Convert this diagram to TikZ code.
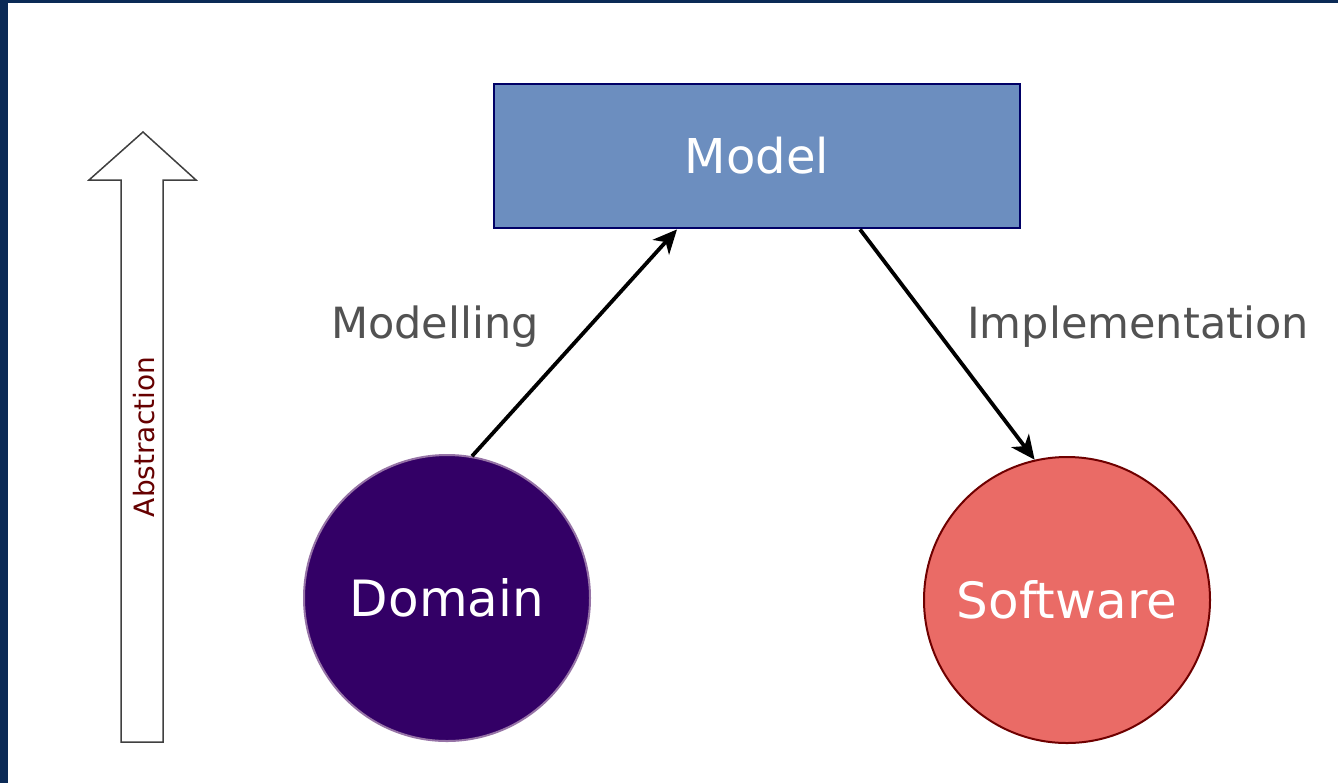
\documentclass[tikz,border=0pt]{standalone}
\usepackage{fontspec}
\setmainfont{DejaVu Sans}
\usetikzlibrary{arrows.meta}

\definecolor{framenavy}{HTML}{0B2A56}
\definecolor{modelfill}{HTML}{6C8EBF}
\definecolor{modeldraw}{HTML}{000066}
\definecolor{domfill}{HTML}{330066}
\definecolor{domdraw}{HTML}{9673A6}
\definecolor{softfill}{HTML}{EA6B66}
\definecolor{softdraw}{HTML}{6F0000}
\definecolor{labelgray}{HTML}{525252}
\definecolor{abstrred}{HTML}{660000}

\begin{document}
\begin{tikzpicture}[x=0.5pt,y=-0.5pt,
		stage/.style={circle,minimum size=143pt,inner sep=0pt,line width=1pt,text=white,font=\fontsize{25}{30}\selectfont},
		steplabel/.style={text=labelgray,font=\fontsize{21.5}{26}\selectfont},
		flow/.style={-{Stealth[length=12pt,width=11pt,inset=3.5pt]},line width=1.9pt}]
		% frame
		\useasboundingbox (0,0) rectangle (1338,783);
		\fill [framenavy] (0,0) rectangle (1338,783);
		\fill [white] (8,3) rectangle (1338,783);
		% abstraction arrow
		\draw [line width=0.75pt,draw=black!75,fill=white] (121,742) -- (121,180) -- (89,180) -- (143,132) -- (196,180) -- (163,180) -- (163,742) -- cycle;
		\node (abstr) at (144,437) [rotate=90,text=abstrred,font=\fontsize{14}{17}\selectfont] {Abstraction};
		% nodes
		\node (model) at (757,156) [rectangle,minimum width=263pt,minimum height=72pt,fill=modelfill,draw=modeldraw,line width=1.4pt,text=white,font=\fontsize{24}{29}\selectfont] {Model};
		\node (dom) at (447,598) [stage,fill=domfill,draw=domdraw] {Domain};
		\node (soft) at (1067,600) [stage,fill=softfill,draw=softdraw] {Software};
		% connectors
		\draw [flow] (dom.80) -- ([xshift=-40pt]model.south);
		\draw [flow] ([xshift=51.5pt]model.south) -- (soft.103);
		\node (modlab) at (435,327) [steplabel] {Modelling};
		\node (implab) at (1138,327) [steplabel] {Implementation};
\end{tikzpicture}
\end{document}
